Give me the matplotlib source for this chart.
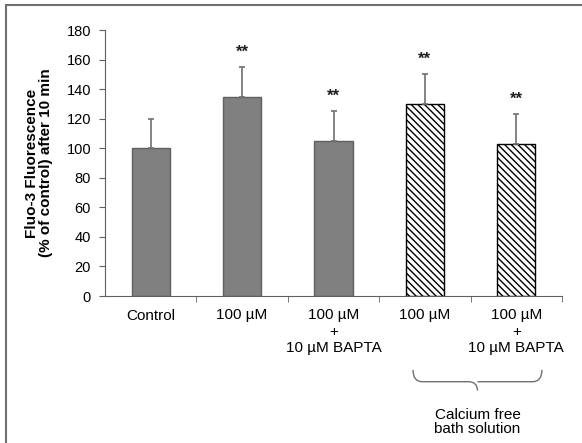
import matplotlib.pyplot as plt
from matplotlib.path import Path
from matplotlib.patches import PathPatch, Rectangle

plt.rcParams['font.family'] = ['Liberation Sans', 'DejaVu Sans']

# data
labels = ["Control", "100 µM", "100 µM\n+\n10 µM BAPTA", "100 µM", "100 µM\n+\n10 µM BAPTA"]
values = [100, 135, 105, 130, 103]
errors = [20, 20, 20, 20, 20]
stars = ["", "**", "**", "**", "**"]
hatched = [False, False, False, True, True]

fig = plt.figure(figsize=(5.82, 4.43), dpi=100)
ax = fig.add_axes([105 / 582, 1 - 296 / 443, 457 / 582, 266 / 443])

# outer frame
fig.patches.append(Rectangle((6 / 582, -0.05), 1.1, 1 - 5 / 443 + 0.05, transform=fig.transFigure,
                             fill=False, edgecolor="#707070", linewidth=1.5))

x = list(range(len(values)))
for i in x:
    if hatched[i]:
        ax.bar(i, values[i], width=0.42, color="white", edgecolor="black", hatch="\\\\\\\\\\",
               linewidth=1.0)
    else:
        ax.bar(i, values[i], width=0.42, color="#808080", edgecolor="#606060", linewidth=1.0)
    ax.errorbar(i, values[i], yerr=[[0], [errors[i]]], ecolor="#707070", elinewidth=1.2,
                capsize=2.5, capthick=1.2, fmt="none")
    if stars[i]:
        ax.text(i, values[i] + errors[i] + 10, stars[i], ha="center", va="center",
                fontsize=12, fontweight="bold", color="#202020")

ax.set_xlim(-0.5, 4.5)
ax.set_ylim(0, 180)
ax.set_yticks(range(0, 181, 20))
ax.tick_params(axis="y", labelsize=10.5, direction="out", length=4, pad=6, color="#606060")
ax.set_xticks(x)
ax.set_xticklabels(labels, fontsize=11, linespacing=1.2)
ax.tick_params(axis="x", length=0, pad=9)
# minor ticks between categories
ax.set_xticks([i + 0.5 for i in x], minor=True)
ax.tick_params(axis="x", which="minor", length=4, direction="out", color="#606060")

for s in ["top", "right"]:
    ax.spines[s].set_visible(False)
ax.spines["left"].set_color("#606060")
ax.spines["bottom"].set_color("#606060")

ax.set_ylabel("Fluo-3 Fluorescence\n(% of control) after 10 min", fontsize=11,
              fontweight="bold", labelpad=10, linespacing=1.0)

# curly brace under the calcium free bars
x0, x1 = 2.87, 4.28
xm = (x0 + x1) / 2
yt, ymid, yb = -50, -58, -64
d = 0.1
verts = [(x0, yt), (x0, ymid), (x0 + d, ymid), (xm - d, ymid), (xm, ymid), (xm, yb),
         (xm, ymid), (xm + d, ymid), (x1 - d, ymid), (x1, ymid), (x1, yt)]
codes = [Path.MOVETO, Path.CURVE3, Path.CURVE3, Path.LINETO, Path.CURVE3, Path.CURVE3,
         Path.MOVETO, Path.CURVE3, Path.LINETO, Path.CURVE3, Path.CURVE3]
ax.add_patch(PathPatch(Path(verts, codes), fill=False, edgecolor="#707070", linewidth=1.0,
                       clip_on=False))
ax.text(xm, -85, "Calcium free\nbath solution", ha="center", va="center", fontsize=11,
        linespacing=1.0, clip_on=False)

fig.savefig("out.png", dpi=100)
